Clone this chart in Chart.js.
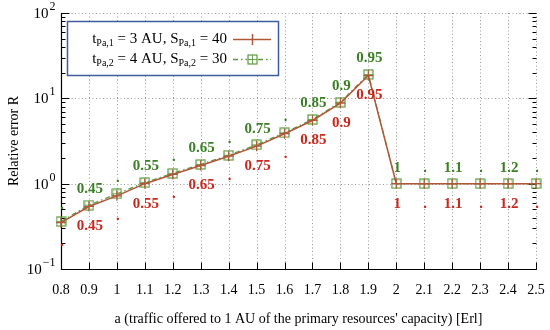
<!DOCTYPE html>
<html>
<head>
<meta charset="utf-8">
<script src="https://cdn.jsdelivr.net/npm/chart.js@4.4.1/dist/chart.umd.min.js"></script>
<style>
  html, body { margin: 0; padding: 0; background: #fff; }
  #wrap { width: 550px; height: 330px; }
</style>
</head>
<body>
<div id="wrap"><canvas id="grafico"></canvas></div>
<script>
// Dados
const valoresA = ['0.8', '0.9', '1', '1.1', '1.2', '1.3', '1.4', '1.5', '1.6', '1.7', '1.8', '1.9', '2', '2.1', '2.2', '2.3', '2.4', '2.5'];
const erroSerie1 = [0.35, 0.54, 0.72, 1.0, 1.28, 1.63, 2.1, 2.75, 3.85, 5.5, 8.8, 18.5, 1, 1, 1, 1, 1, 1];
const erroSerie2 = [0.36, 0.56, 0.76, 1.03, 1.32, 1.68, 2.15, 2.85, 3.95, 5.65, 9.0, 19, 1, 1, 1, 1, 1, 1];
const rotulosVerdes = ['.', '0.45', '.', '0.55', '.', '0.65', '.', '0.75', '.', '0.85', '0.9', '0.95', '1', '.', '1.1', '.', '1.2', '.'];
const rotulosVermelhos = ['.', '0.45', '.', '0.55', '.', '0.65', '.', '0.75', '.', '0.85', '0.9', '0.95', '1', '.', '1.1', '.', '1.2', '.'];
const decadasY = [0.1, 1, 10, 100];
const expoentesY = ['\u22121', '0', '1', '2'];

const corSerie1 = '#b0583a';
const corSerie2 = '#5c9a3c';
const corVerde = '#3c7f26';
const corVermelho = '#c8281e';
const fonteSerif = '"Liberation Serif", "Times New Roman", serif';

// Quadrado vazio como marcador
function marcadorQuadrado() {
    const c = document.createElement('canvas');
    c.width = 11; c.height = 11;
    const g = c.getContext('2d');
    g.strokeStyle = corSerie2;
    g.lineWidth = 1.2;
    g.strokeRect(1, 1, 9, 9);
    g.beginPath();
    g.moveTo(5.5, 1); g.lineTo(5.5, 10);
    g.moveTo(1, 5.5); g.lineTo(10, 5.5);
    g.lineWidth = 0.9;
    g.stroke();
    return c;
}
const quadrado = marcadorQuadrado();

// Plugin: grade pontilhada, moldura, marcas e rótulos
const pluginDecoracao = {
    id: 'decoracao',
    beforeDatasetsDraw(chart) {
        const { ctx, chartArea: a, scales: { x, y } } = chart;
        ctx.save();
        ctx.strokeStyle = '#9a9a9a';
        ctx.lineWidth = 1;
        ctx.setLineDash([1, 2.5]);
        valoresA.forEach((v, i) => {
            const px = Math.round(x.getPixelForValue(i)) + 0.5;
            ctx.beginPath(); ctx.moveTo(px, a.top); ctx.lineTo(px, a.bottom); ctx.stroke();
        });
        decadasY.forEach(v => {
            const py = Math.round(y.getPixelForValue(v)) + 0.5;
            ctx.beginPath(); ctx.moveTo(a.left, py); ctx.lineTo(a.right, py); ctx.stroke();
        });
        ctx.setLineDash([]);

        // eixos sólidos esquerdo e inferior
        ctx.strokeStyle = '#000';
        ctx.lineWidth = 1.2;
        const l = Math.round(a.left) + 0.5, b = Math.round(a.bottom) + 0.5, r = Math.round(a.right) + 0.5;
        ctx.beginPath();
        ctx.moveTo(l, a.top); ctx.lineTo(l, b); ctx.lineTo(r, b);
        ctx.stroke();

        // marcas do eixo x
        ctx.lineWidth = 1;
        valoresA.forEach((v, i) => {
            const px = Math.round(x.getPixelForValue(i)) + 0.5;
            ctx.beginPath(); ctx.moveTo(px, b); ctx.lineTo(px, b - 7); ctx.stroke();
        });

        // marcas do eixo y (maiores e menores), nos dois lados
        for (let e = -1; e <= 2; e++) {
            for (let m = 1; m <= 9; m++) {
                const v = m * Math.pow(10, e);
                if (v > 100.0001) break;
                const py = Math.round(y.getPixelForValue(v)) + 0.5;
                const len = m === 1 ? 8 : 4;
                ctx.beginPath();
                ctx.moveTo(l, py); ctx.lineTo(l + len, py);
                ctx.moveTo(r, py); ctx.lineTo(r - len, py);
                ctx.stroke();
            }
        }

        // rótulos do eixo y: 10 com expoente
        ctx.fillStyle = '#000';
        ctx.textBaseline = 'middle';
        decadasY.forEach((v, i) => {
            const py = y.getPixelForValue(v);
            ctx.font = '12px ' + fonteSerif;
            ctx.textAlign = 'right';
            const exp = expoentesY[i];
            const wExp = ctx.measureText(exp).width;
            ctx.fillText(exp, l - 6, py - 6);
            ctx.font = '15px ' + fonteSerif;
            ctx.fillText('10', l - 6 - wExp - 1, py + 1);
        });
        ctx.restore();
    },
    afterDatasetsDraw(chart) {
        const { ctx, scales: { x, y } } = chart;
        ctx.save();
        ctx.font = 'bold 15px ' + fonteSerif;
        ctx.textAlign = 'center';
        ctx.textBaseline = 'middle';
        valoresA.forEach((v, i) => {
            const px = x.getPixelForValue(i);
            ctx.fillStyle = corVerde;
            ctx.fillText(rotulosVerdes[i], px + 1, y.getPixelForValue(erroSerie2[i]) - 16);
            ctx.fillStyle = corVermelho;
            ctx.fillText(rotulosVermelhos[i], px + 1, y.getPixelForValue(erroSerie1[i]) + 20);
        });

        // legenda com subscritos
        const bx = 67.5, by = 21.5, bw = 211, bh = 54;
        ctx.fillStyle = '#fff';
        ctx.fillRect(bx, by, bw, bh);
        ctx.strokeStyle = '#3f5c9c';
        ctx.lineWidth = 1.5;
        ctx.strokeRect(bx, by, bw, bh);

        const linhas = [
            { t: ['t', 'Pa,1', ' = 3 AU, S', 'Pa,1', ' = 40'], yy: 39 },
            { t: ['t', 'Pa,2', ' = 4 AU, S', 'Pa,2', ' = 30'], yy: 59 }
        ];
        ctx.textAlign = 'left';
        ctx.fillStyle = '#000';
        linhas.forEach(ln => {
            let largura = 0;
            ln.t.forEach((s, k) => {
                ctx.font = (k % 2 ? '10px ' : '15px ') + fonteSerif;
                largura += ctx.measureText(s).width;
            });
            let cx = 227 - largura;
            ln.t.forEach((s, k) => {
                ctx.font = (k % 2 ? '10px ' : '15px ') + fonteSerif;
                ctx.fillText(s, cx, ln.yy + (k % 2 ? 4 : 0));
                cx += ctx.measureText(s).width;
            });
        });

        ctx.strokeStyle = corSerie1;
        ctx.lineWidth = 1.5;
        ctx.beginPath();
        ctx.moveTo(233, 39.5); ctx.lineTo(271, 39.5);
        ctx.moveTo(252.5, 34); ctx.lineTo(252.5, 45);
        ctx.stroke();

        ctx.strokeStyle = corSerie2;
        ctx.setLineDash([5, 3, 1.5, 3]);
        ctx.beginPath();
        ctx.moveTo(233, 59.5); ctx.lineTo(271, 59.5);
        ctx.stroke();
        ctx.setLineDash([]);
        ctx.fillStyle = '#fff';
        ctx.fillRect(247, 54, 11, 11);
        ctx.drawImage(quadrado, 247, 54);
        ctx.restore();
    }
};

const ctxGrafico = document.getElementById('grafico').getContext('2d');

new Chart(ctxGrafico, {
    type: 'line',
    data: {
        labels: valoresA,
        datasets: [
            {
                label: 'Serie 1',
                data: erroSerie1,
                borderColor: corSerie1,
                borderWidth: 1.5,
                pointStyle: 'cross',
                pointRadius: 5,
                pointBorderColor: corSerie1,
                pointBorderWidth: 1.2,
                tension: 0
            },
            {
                label: 'Serie 2',
                data: erroSerie2,
                borderColor: corSerie2,
                borderWidth: 1.3,
                borderDash: [5, 3, 1.5, 3],
                pointStyle: quadrado,
                pointRadius: 5,
                tension: 0
            }
        ]
    },
    options: {
        responsive: true,
        maintainAspectRatio: false,
        animation: false,
        layout: { padding: { top: 13, right: 14, left: 0, bottom: 0 } },
        plugins: {
            legend: { display: false },
            tooltip: { enabled: false }
        },
        scales: {
            x: {
                type: 'category',
                offset: false,
                grid: { display: false, drawTicks: false },
                border: { display: false },
                ticks: {
                    color: '#000',
                    font: { family: fonteSerif, size: 14 },
                    padding: 13,
                    maxRotation: 0,
                    autoSkip: false
                },
                title: {
                    display: true,
                    text: "a (traffic offered to 1 AU of the primary resources' capacity) [Erl]",
                    color: '#000',
                    font: { family: fonteSerif, size: 14 },
                    padding: { top: 6, bottom: 2 }
                },
                afterFit(scale) {
                    scale.height = 61;
                    scale.paddingLeft = 0;
                    scale.paddingRight = 0;
                }
            },
            y: {
                type: 'logarithmic',
                min: 0.1,
                max: 100,
                grid: { display: false, drawTicks: false },
                border: { display: false },
                ticks: { display: false },
                title: {
                    display: true,
                    text: 'Relative error R',
                    color: '#000',
                    font: { family: fonteSerif, size: 14 },
                    padding: { top: 6, bottom: 4 }
                },
                afterFit(scale) { scale.width = 61; }
            }
        }
    },
    plugins: [pluginDecoracao]
});
</script>
</body>
</html>
